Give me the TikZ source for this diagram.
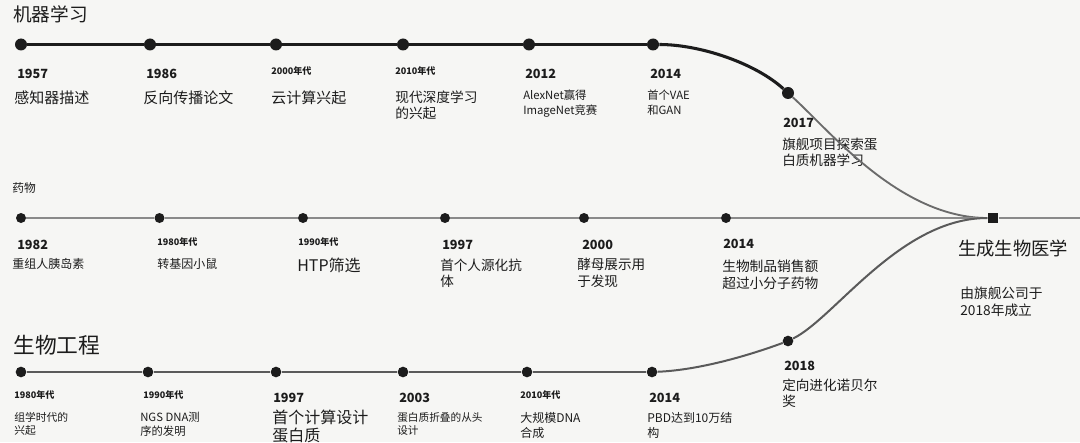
\documentclass[tikz,border=0pt]{standalone}
\usepackage{fontspec}
\setmainfont{Noto Sans CJK SC}
\usetikzlibrary{positioning,calc}
\definecolor{paper}{HTML}{F6F6F4}
\definecolor{ink}{HTML}{1C1C1C}
\definecolor{druggray}{HTML}{8A8A8A}
\definecolor{biogray}{HTML}{5A5A5A}

\begin{document}
\begin{tikzpicture}[x=0.75pt,y=-0.75pt,
  dot/.style={circle,fill=ink,inner sep=0pt,minimum size=9pt},
  smalldot/.style={dot,minimum size=7.5pt},
  hub/.style={rectangle,fill=ink,inner sep=0pt,minimum size=8pt},
  yr/.style={anchor=base west,inner sep=0pt,text=ink,font=\fontsize{9.5}{11}\selectfont\bfseries},
  dec/.style={anchor=base west,inner sep=0pt,text=ink,font=\fontsize{6.8}{8}\selectfont\bfseries},
  desc/.style 2 args={anchor=base west,inner sep=0pt,text=ink,align=left,font=\fontsize{#1}{#2}\selectfont},
  heading/.style={anchor=base west,inner sep=0pt,text=ink,font=\fontsize{#1}{#1}\selectfont},
  mlline/.style={ink,line width=2.3pt},
  mlfade/.style={ink!65,line width=1.4pt},
  drugline/.style={druggray,line width=1.3pt},
  bioline/.style={biogray,line width=1.5pt}]
\fill[paper] (0,0) rectangle (1080,442);
\useasboundingbox (0,0) rectangle (1080,442);

% machine learning
\node[heading=14] (mltitle) at (13,22) {机器学习};
\node[dot] (m1957) at (21,44.5) {};
\node[dot] (m1986) at (150,44.5) {};
\node[dot] (m2000s) at (276,44.5) {};
\node[dot] (m2010s) at (403,44.5) {};
\node[dot] (m2012) at (529,44.5) {};
\node[dot] (m2014) at (653,44.5) {};
\node[dot] (m2017) at (788,93) {};

\node[yr] (tm1957) at (17,78.6) {1957};
\node[desc={11.25}{13}] (lm1957) at (14,103.7) {感知器描述};
\node[yr] (tm1986) at (146,78.6) {1986};
\node[desc={11.25}{13}] (lm1986) at (143,103.7) {反向传播论文};
\node[dec] (tm2000s) at (271,75) {2000年代};
\node[desc={11.25}{13}] (lm2000s) at (271,103.7) {云计算兴起};
\node[dec] (tm2010s) at (395,75) {2010年代};
\node[desc={10.3}{11.6}] (lm2010s) at (395,118.2) {现代深度学习\\的兴起};
\node[yr] (tm2012) at (525,78.6) {2012};
\node[desc={8.5}{10.9}] (lm2012) at (523,114.3) {AlexNet赢得\\ImageNet竞赛};
\node[yr] (tm2014) at (650,78.6) {2014};
\node[desc={8.5}{10.9}] (lm2014) at (647,114.5) {首个VAE\\和GAN};
\node[yr] (tm2017) at (783,127.6) {2017};
\node[desc={10.2}{12}] (lm2017) at (782,166) {旗舰项目探索蛋\\白质机器学习};

% drugs
\node[heading=8.8] (drugtitle) at (12,192.5) {药物};
\node[smalldot] (d1982) at (21,218) {};
\node[smalldot] (d1980s) at (159.5,218) {};
\node[smalldot] (d1990s) at (303,218) {};
\node[smalldot] (d1997) at (445,218) {};
\node[smalldot] (d2000) at (584,218) {};
\node[smalldot] (d2014) at (726,218) {};
\node[hub] (gen) at (993,218) {};
\coordinate (dend) at (1080,218);

\node[yr] (td1982) at (17,249.5) {1982};
\node[desc={9}{11}] (ld1982) at (12,268.6) {重组人胰岛素};
\node[dec] (td1980s) at (157,245.5) {1980年代};
\node[desc={9}{11}] (ld1980s) at (157,268.6) {转基因小鼠};
\node[dec] (td1990s) at (298,245.5) {1990年代};
\node[desc={12}{14}] (ld1990s) at (297,271) {HTP筛选};
\node[yr] (td1997) at (442,249.5) {1997};
\node[desc={10.2}{12.5}] (ld1997) at (440,286.7) {首个人源化抗\\体};
\node[yr] (td2000) at (582,249.5) {2000};
\node[desc={10.2}{12.5}] (ld2000) at (577,286.2) {酵母展示用\\于发现};
\node[yr] (td2014) at (723,248.6) {2014};
\node[desc={10.3}{12.4}] (ld2014) at (722,288) {生物制品销售额\\超过小分子药物};

\node[heading=13.75] (gentitle) at (958,255.5) {生成生物医学};
\node[desc={10.3}{12.4}] (gennote) at (960,315) {由旗舰公司于\\2018年成立};

% bioengineering
\node[heading=16.3] (biotitle) at (13,353) {生物工程};
\node[dot,minimum size=8pt] (b1980s) at (21,372) {};
\node[dot,minimum size=8pt] (b1990s) at (148,372) {};
\node[dot,minimum size=8pt] (b1997) at (276,372) {};
\node[dot,minimum size=8pt] (b2003) at (403,372) {};
\node[dot,minimum size=8pt] (b2010s) at (527,372) {};
\node[dot,minimum size=8pt] (b2014) at (652,372) {};
\node[dot,minimum size=8pt] (b2018) at (788,341) {};

\node[dec] (tb1980s) at (14,398) {1980年代};
\node[desc={8.1}{9.75}] (lb1980s) at (14,434) {组学时代的\\兴起};
\node[dec] (tb1990s) at (143,398) {1990年代};
\node[desc={8.5}{10.5}] (lb1990s) at (140,435.5) {NGS DNA测\\序的发明};
\node[yr] (tb1997) at (273,402.6) {1997};
\node[desc={12}{14}] (lb1997) at (272,441.7) {首个计算设计\\蛋白质};
\node[yr] (tb2003) at (399,402.6) {2003};
\node[desc={8}{9.75}] (lb2003) at (397,434.5) {蛋白质折叠的从头\\设计};
\node[dec] (tb2010s) at (520,398) {2010年代};
\node[desc={9}{11.25}] (lb2010s) at (520,437) {大规模DNA\\合成};
\node[yr] (tb2014) at (649,402.6) {2014};
\node[desc={9}{11.6}] (lb2014) at (647,437.5) {PBD达到10万结\\构};
\node[yr] (tb2018) at (784,370.6) {2018};
\node[desc={10.2}{12}] (lb2018) at (782,406) {定向进化诺贝尔\\奖};

% connectors
\draw[mlline] (m1957) -- (m1986) -- (m2000s) -- (m2010s) -- (m2012) -- (m2014);
\draw[mlline] (m2014) .. controls (700,44.5) and (755,63) .. (m2017);
\draw[mlfade] (m2017) .. controls (830,131) and (900,218) .. (gen);
\draw[drugline] (d1982) -- (d1980s) -- (d1990s) -- (d1997) -- (d2000) -- (d2014) -- (gen) -- (dend);
\draw[bioline] (b1980s) -- (b1990s) -- (b1997) -- (b2003) -- (b2010s) -- (b2014);
\draw[bioline] (b2014) .. controls (700,370) and (750,355) .. (b2018);
\draw[bioline] (b2018) .. controls (835,318) and (900,218) .. (gen);
\end{tikzpicture}
\end{document}
